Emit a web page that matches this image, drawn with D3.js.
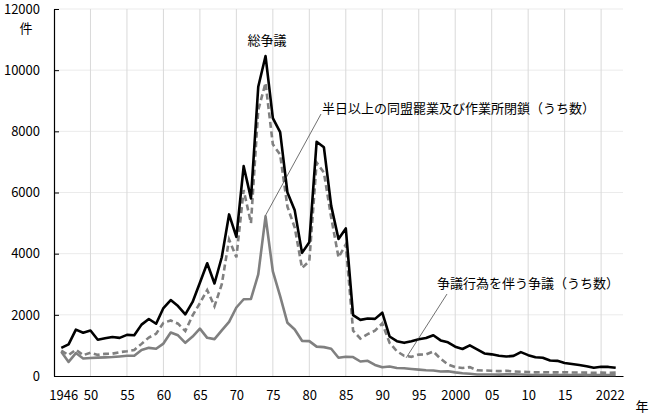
<!DOCTYPE html>
<html><head><meta charset="utf-8">
<script src="https://cdn.jsdelivr.net/npm/d3@7"></script>
<style>
body{margin:0;background:#fff;}
svg{display:block;font-family:"Noto Sans CJK JP","Noto Sans",sans-serif;}
</style></head>
<body><svg id="c" width="658" height="416"></svg>
<script>
const years = d3.range(1946, 2023);
const total = [920,1035,1517,1414,1487,1186,1233,1277,1247,1345,1330,1680,1864,1709,2222,2483,2287,2016,2422,3051,3687,3024,3882,5283,4551,6861,5808,9459,10462,8435,7974,5997,5416,4026,4376,7660,7477,5562,4480,4826,1990,1835,1879,1868,2071,1292,1138,1084,1136,1200,1240,1334,1164,1102,958,884,1002,872,737,708,662,636,657,780,682,612,596,507,495,425,391,358,320,268,303,297,270];
const withActs = [830,683,860,680,763,690,725,730,780,809,850,1050,1260,1380,1740,1815,1710,1470,1980,2380,2810,2280,3000,4460,3880,6080,5000,8700,9581,7574,7240,5533,4852,3530,3760,6980,6650,5180,3880,4300,1480,1225,1370,1480,1720,1085,810,660,627,700,703,800,562,376,290,260,290,190,180,170,160,170,150,140,130,120,125,120,120,125,115,115,110,105,110,105,110];
const halfDay = [790,460,750,570,590,600,610,620,640,660,660,850,920,890,1060,1420,1330,1085,1290,1550,1248,1205,1490,1770,2240,2510,2520,3320,5220,3420,2610,1740,1520,1150,1140,960,944,890,596,627,620,474,498,362,284,310,263,252,230,209,190,178,145,154,118,90,74,50,51,50,46,54,52,48,40,35,38,35,32,39,33,38,30,33,35,32,33];
const yTicks = [0,2000,4000,6000,8000,10000,12000];
const xTicks = [1946,1950,1955,1960,1965,1970,1975,1980,1985,1990,1995,2000,2005,2010,2015,2022];
const xGrid = [1950,1955,1960,1965,1970,1975,1980,1985,1990,1995,2000,2005,2010,2015,2020];
const labels = {total:"総争議", half:"半日以上の同盟罷業及び作業所閉鎖（うち数）", acts:"争議行為を伴う争議（うち数）", yUnit:"件", xUnit:"年"};

const svg = d3.select("#c");
const L=54, R=623, T=9, B=376;
const x = d3.scaleLinear().domain([1945,2023]).range([L,R]);
const y = d3.scaleLinear().domain([0,12000]).range([B,T]);

// grid
svg.append("g").selectAll("line").data(yTicks.filter(d=>d>0)).join("line")
  .attr("x1",L).attr("x2",R).attr("y1",d=>y(d)).attr("y2",d=>y(d))
  .attr("stroke","#ebebeb").attr("stroke-width",1);
svg.append("g").selectAll("line").data(xGrid).join("line")
  .attr("x1",d=>x(d)).attr("x2",d=>x(d)).attr("y1",T).attr("y2",B)
  .attr("stroke","#d9d9d9").attr("stroke-width",1);

// axes
const ya = svg.append("g").attr("transform",`translate(${L},0)`)
  .call(d3.axisLeft(y).tickValues(yTicks).tickSize(-5).tickSizeOuter(0).tickPadding(14).tickFormat(d=>String(d)));
ya.select(".domain").attr("stroke","#000").attr("stroke-width",1.2);
ya.selectAll(".tick line").attr("stroke","#000");
ya.selectAll("text").attr("font-size",13).attr("fill","#000").attr("font-family","'Noto Sans CJK JP',sans-serif");

const fmt = d => (d===1946||d===2000||d===2022) ? String(d) : String(d).slice(2);
const xa = svg.append("g").attr("transform",`translate(0,${B})`)
  .call(d3.axisBottom(x).tickValues(xTicks).tickSize(0).tickPadding(15).tickFormat(fmt));
xa.select(".domain").attr("stroke","#000").attr("stroke-width",1.2);
xa.selectAll("text").attr("font-size",13).attr("fill","#000").attr("font-family","'Noto Sans CJK JP',sans-serif");
xa.selectAll(".tick").filter(d=>d===1946).select("text").attr("dx",2);
xa.selectAll(".tick").filter(d=>d===2022).select("text").attr("dx",-6);

// lines
const line = d3.line().x((d,i)=>x(years[i])).y(d=>y(d));
svg.append("path").datum(halfDay).attr("d",line).attr("fill","none")
  .attr("stroke","#808080").attr("stroke-width",2.6).attr("stroke-linejoin","round");
svg.append("path").datum(withActs).attr("d",line).attr("fill","none")
  .attr("stroke","#808080").attr("stroke-width",2.6).attr("stroke-dasharray","6,3.5");
svg.append("path").datum(total).attr("d",line).attr("fill","none")
  .attr("stroke","#000").attr("stroke-width",2.6).attr("stroke-linejoin","round");

// leader lines
const i74 = years.indexOf(1974), i93 = years.indexOf(1993);
svg.append("line").attr("x1",x(1974)).attr("y1",y(halfDay[i74])-1).attr("x2",321).attr("y2",114)
  .attr("stroke","#333").attr("stroke-width",0.7);
svg.append("line").attr("x1",x(1993)+2).attr("y1",y(withActs[i93])+2).attr("x2",447).attr("y2",294)
  .attr("stroke","#333").attr("stroke-width",0.7);

// text
const tx = (t,xx,yy,anchor) => svg.append("text").text(t).attr("x",xx).attr("y",yy)
  .attr("font-size",13).attr("fill","#000").attr("dominant-baseline","central").attr("text-anchor",anchor||"start");
tx(labels.total,267,39,"middle");
tx(labels.half,322,107);
tx(labels.acts,437,282);
tx(labels.yUnit,26,27,"middle");
tx(labels.xUnit,642,405,"middle");
</script></body></html>
